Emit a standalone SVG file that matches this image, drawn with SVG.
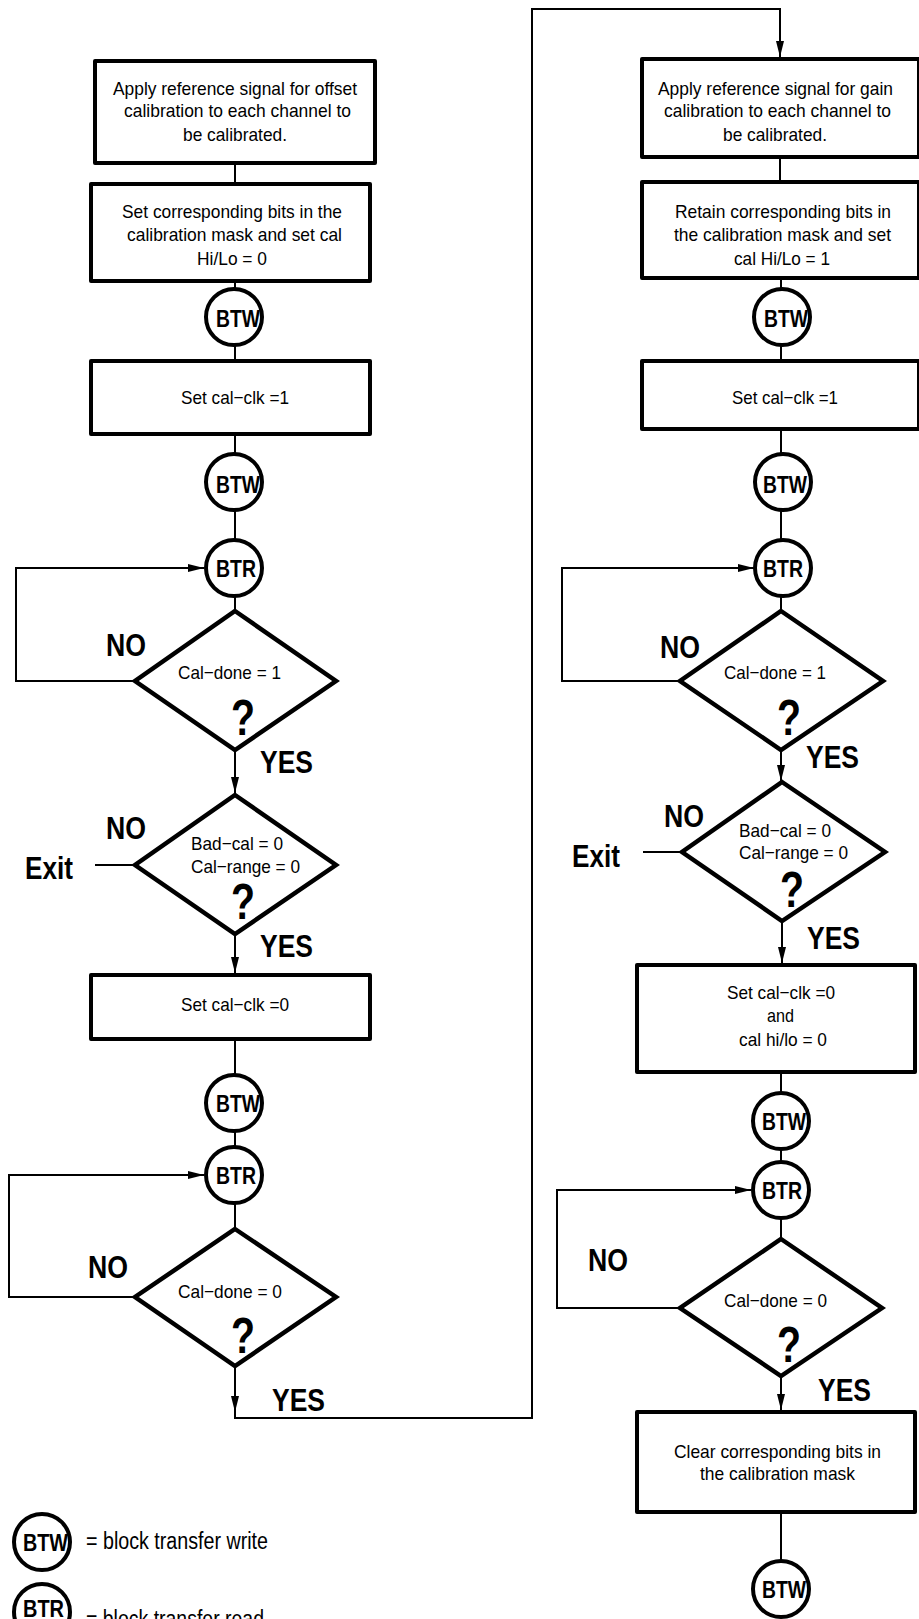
<svg xmlns="http://www.w3.org/2000/svg" width="919" height="1619" viewBox="0 0 919 1619">
<defs>
<style>
.box{fill:#fff;stroke:#000;stroke-width:4;stroke-linejoin:round}
.dia{fill:#fff;stroke:#000;stroke-width:4.5;stroke-linejoin:miter}
.circ{fill:#fff;stroke:#000;stroke-width:4}
.ln{fill:none;stroke:#000;stroke-width:2}
text{font-family:"Liberation Sans",Arial,Helvetica,sans-serif;fill:#000}
.t{font-size:19px}
.b{font-size:31px;font-weight:bold}
.q{font-size:50px;font-weight:bold}
.c{font-size:24px;font-weight:bold}
.lg{font-size:23px}
</style>
<marker id="ah" markerUnits="userSpaceOnUse" markerWidth="18" markerHeight="10" refX="16" refY="4" orient="auto">
<path d="M0,0 L16,4 L0,8 z" fill="#000"/>
</marker>
</defs>
<rect x="0" y="0" width="919" height="1619" fill="#fff"/>

<g id="connectors">
<path class="ln" d="M235,165 V182"/>
<path class="ln" d="M235,283 V289"/>
<path class="ln" d="M235,345 V361"/>
<path class="ln" d="M235,434 V454"/>
<path class="ln" d="M235,510 V540"/>
<path class="ln" d="M235,596 V611"/>
<path class="ln" d="M235,750 V793" marker-end="url(#ah)"/>
<path class="ln" d="M135,681 H16 V568 H204" marker-end="url(#ah)"/>
<path class="ln" d="M135,865 H95"/>
<path class="ln" d="M235,934 V973" marker-end="url(#ah)"/>
<path class="ln" d="M235,1039 V1075"/>
<path class="ln" d="M235,1131 V1147"/>
<path class="ln" d="M135,1297 H9 V1175 H204" marker-end="url(#ah)"/>
<path class="ln" d="M235,1203 V1229"/>
<path class="ln" d="M235,1366 V1412" marker-end="url(#ah)"/>
<path class="ln" d="M235,1410 V1418 H532 V9 H780 V57" marker-end="url(#ah)"/>

<path class="ln" d="M780,157 V182"/>
<path class="ln" d="M781,278 V289"/>
<path class="ln" d="M781,345 V361"/>
<path class="ln" d="M781,429 V454"/>
<path class="ln" d="M781,510 V540"/>
<path class="ln" d="M781,596 V611"/>
<path class="ln" d="M781,750 V781" marker-end="url(#ah)"/>
<path class="ln" d="M680,681 H562 V568 H754" marker-end="url(#ah)"/>
<path class="ln" d="M682,852 H643"/>
<path class="ln" d="M782,921 V963" marker-end="url(#ah)"/>
<path class="ln" d="M781,1072 V1093"/>
<path class="ln" d="M781,1149 V1162"/>
<path class="ln" d="M680,1308 H557 V1190 H751" marker-end="url(#ah)"/>
<path class="ln" d="M781,1218 V1239"/>
<path class="ln" d="M781,1376 V1410" marker-end="url(#ah)"/>
<path class="ln" d="M781,1512 V1561"/>
</g>

<!-- Left column -->
<g id="box-offset-apply">
<rect class="box" x="95" y="61" width="280" height="102"/>
<text class="t" x="113" y="95" textLength="244" lengthAdjust="spacingAndGlyphs">Apply reference signal for offset</text>
<text class="t" x="124" y="117" textLength="227" lengthAdjust="spacingAndGlyphs">calibration to each channel to</text>
<text class="t" x="183" y="141" textLength="104" lengthAdjust="spacingAndGlyphs">be calibrated.</text>
</g>
<g id="box-offset-setbits">
<rect class="box" x="91" y="184" width="279" height="97"/>
<text class="t" x="122" y="218" textLength="220" lengthAdjust="spacingAndGlyphs">Set corresponding bits in the</text>
<text class="t" x="127" y="241" textLength="215" lengthAdjust="spacingAndGlyphs">calibration mask and set cal</text>
<text class="t" x="197" y="265" textLength="70" lengthAdjust="spacingAndGlyphs">Hi/Lo = 0</text>
</g>
<g id="btw-l1">
<circle class="circ" cx="234" cy="317" r="28"/>
<text class="c" x="216" y="327" textLength="44" lengthAdjust="spacingAndGlyphs">BTW</text>
</g>
<g id="box-l-calclk1">
<rect class="box" x="91" y="361" width="279" height="73"/>
<text class="t" x="181" y="404" textLength="108" lengthAdjust="spacingAndGlyphs">Set cal−clk =1</text>
</g>
<g id="btw-l2">
<circle class="circ" cx="234" cy="482" r="28"/>
<text class="c" x="216" y="493" textLength="44" lengthAdjust="spacingAndGlyphs">BTW</text>
</g>
<g id="btr-l1">
<circle class="circ" cx="234" cy="568" r="28"/>
<text class="c" x="216" y="577" textLength="40" lengthAdjust="spacingAndGlyphs">BTR</text>
</g>
<g id="dec-l1">
<polygon class="dia" points="235,611 336,681 235,750 135,681"/>
<text class="t" x="178" y="679" textLength="103" lengthAdjust="spacingAndGlyphs">Cal−done = 1</text>
<text class="q" x="231" y="735" textLength="24" lengthAdjust="spacingAndGlyphs">?</text>
<text class="b" x="106" y="656" textLength="40" lengthAdjust="spacingAndGlyphs">NO</text>
<text class="b" x="260" y="773" textLength="53" lengthAdjust="spacingAndGlyphs">YES</text>
</g>
<g id="dec-l2">
<polygon class="dia" points="235,795 336,865 235,934 135,865"/>
<text class="t" x="191" y="850" textLength="92" lengthAdjust="spacingAndGlyphs">Bad−cal = 0</text>
<text class="t" x="191" y="873" textLength="109" lengthAdjust="spacingAndGlyphs">Cal−range = 0</text>
<text class="q" x="231" y="919" textLength="24" lengthAdjust="spacingAndGlyphs">?</text>
<text class="b" x="106" y="839" textLength="40" lengthAdjust="spacingAndGlyphs">NO</text>
<text class="b" x="25" y="879" textLength="48" lengthAdjust="spacingAndGlyphs">Exit</text>
<text class="b" x="260" y="957" textLength="53" lengthAdjust="spacingAndGlyphs">YES</text>
</g>
<g id="box-l-calclk0">
<rect class="box" x="91" y="975" width="279" height="64"/>
<text class="t" x="181" y="1011" textLength="108" lengthAdjust="spacingAndGlyphs">Set cal−clk =0</text>
</g>
<g id="btw-l3">
<circle class="circ" cx="234" cy="1103" r="28"/>
<text class="c" x="216" y="1112" textLength="44" lengthAdjust="spacingAndGlyphs">BTW</text>
</g>
<g id="btr-l2">
<circle class="circ" cx="234" cy="1175" r="28"/>
<text class="c" x="216" y="1184" textLength="40" lengthAdjust="spacingAndGlyphs">BTR</text>
</g>
<g id="dec-l3">
<polygon class="dia" points="235,1229 336,1297 235,1366 135,1297"/>
<text class="t" x="178" y="1298" textLength="104" lengthAdjust="spacingAndGlyphs">Cal−done = 0</text>
<text class="q" x="231" y="1353" textLength="24" lengthAdjust="spacingAndGlyphs">?</text>
<text class="b" x="88" y="1278" textLength="40" lengthAdjust="spacingAndGlyphs">NO</text>
<text class="b" x="272" y="1411" textLength="53" lengthAdjust="spacingAndGlyphs">YES</text>
</g>

<!-- Right column -->
<g id="box-gain-apply">
<rect class="box" x="642" y="59" width="277" height="98"/>
<text class="t" x="658" y="95" textLength="235" lengthAdjust="spacingAndGlyphs">Apply reference signal for gain</text>
<text class="t" x="664" y="117" textLength="227" lengthAdjust="spacingAndGlyphs">calibration to each channel to</text>
<text class="t" x="723" y="141" textLength="104" lengthAdjust="spacingAndGlyphs">be calibrated.</text>
</g>
<g id="box-gain-retain">
<rect class="box" x="642" y="182" width="277" height="96"/>
<text class="t" x="675" y="218" textLength="216" lengthAdjust="spacingAndGlyphs">Retain corresponding bits in</text>
<text class="t" x="674" y="241" textLength="217" lengthAdjust="spacingAndGlyphs">the calibration mask and set</text>
<text class="t" x="734" y="265" textLength="96" lengthAdjust="spacingAndGlyphs">cal Hi/Lo = 1</text>
</g>
<g id="btw-r1">
<circle class="circ" cx="782" cy="317" r="28"/>
<text class="c" x="764" y="327" textLength="44" lengthAdjust="spacingAndGlyphs">BTW</text>
</g>
<g id="box-r-calclk1">
<rect class="box" x="642" y="361" width="277" height="68"/>
<text class="t" x="732" y="404" textLength="106" lengthAdjust="spacingAndGlyphs">Set cal−clk =1</text>
</g>
<g id="btw-r2">
<circle class="circ" cx="783" cy="482" r="28"/>
<text class="c" x="763" y="493" textLength="44" lengthAdjust="spacingAndGlyphs">BTW</text>
</g>
<g id="btr-r1">
<circle class="circ" cx="783" cy="568" r="28"/>
<text class="c" x="763" y="577" textLength="40" lengthAdjust="spacingAndGlyphs">BTR</text>
</g>
<g id="dec-r1">
<polygon class="dia" points="781,611 883,681 781,750 680,681"/>
<text class="t" x="724" y="679" textLength="102" lengthAdjust="spacingAndGlyphs">Cal−done = 1</text>
<text class="q" x="777" y="735" textLength="24" lengthAdjust="spacingAndGlyphs">?</text>
<text class="b" x="660" y="658" textLength="40" lengthAdjust="spacingAndGlyphs">NO</text>
<text class="b" x="806" y="768" textLength="53" lengthAdjust="spacingAndGlyphs">YES</text>
</g>
<g id="dec-r2">
<polygon class="dia" points="782,782 885,852 782,921 682,852"/>
<text class="t" x="739" y="837" textLength="92" lengthAdjust="spacingAndGlyphs">Bad−cal = 0</text>
<text class="t" x="739" y="859" textLength="109" lengthAdjust="spacingAndGlyphs">Cal−range = 0</text>
<text class="q" x="780" y="907" textLength="24" lengthAdjust="spacingAndGlyphs">?</text>
<text class="b" x="664" y="827" textLength="40" lengthAdjust="spacingAndGlyphs">NO</text>
<text class="b" x="572" y="867" textLength="48" lengthAdjust="spacingAndGlyphs">Exit</text>
<text class="b" x="807" y="949" textLength="53" lengthAdjust="spacingAndGlyphs">YES</text>
</g>
<g id="box-r-calclk0">
<rect class="box" x="637" y="965" width="278" height="107"/>
<text class="t" x="727" y="999" textLength="108" lengthAdjust="spacingAndGlyphs">Set cal−clk =0</text>
<text class="t" x="767" y="1022" textLength="27" lengthAdjust="spacingAndGlyphs">and</text>
<text class="t" x="739" y="1046" textLength="88" lengthAdjust="spacingAndGlyphs">cal hi/lo = 0</text>
</g>
<g id="btw-r3">
<circle class="circ" cx="781" cy="1121" r="28"/>
<text class="c" x="762" y="1130" textLength="44" lengthAdjust="spacingAndGlyphs">BTW</text>
</g>
<g id="btr-r2">
<circle class="circ" cx="781" cy="1190" r="28"/>
<text class="c" x="762" y="1199" textLength="40" lengthAdjust="spacingAndGlyphs">BTR</text>
</g>
<g id="dec-r3">
<polygon class="dia" points="781,1239 882,1308 781,1376 680,1308"/>
<text class="t" x="724" y="1307" textLength="103" lengthAdjust="spacingAndGlyphs">Cal−done = 0</text>
<text class="q" x="777" y="1362" textLength="24" lengthAdjust="spacingAndGlyphs">?</text>
<text class="b" x="588" y="1271" textLength="40" lengthAdjust="spacingAndGlyphs">NO</text>
<text class="b" x="818" y="1401" textLength="53" lengthAdjust="spacingAndGlyphs">YES</text>
</g>
<g id="box-r-clear">
<rect class="box" x="637" y="1412" width="278" height="100"/>
<text class="t" x="674" y="1458" textLength="207" lengthAdjust="spacingAndGlyphs">Clear corresponding bits in</text>
<text class="t" x="700" y="1480" textLength="155" lengthAdjust="spacingAndGlyphs">the calibration mask</text>
</g>
<g id="btw-r4">
<circle class="circ" cx="781" cy="1589" r="28"/>
<text class="c" x="762" y="1598" textLength="44" lengthAdjust="spacingAndGlyphs">BTW</text>
</g>

<!-- Legend -->
<g id="legend-btw">
<circle class="circ" cx="42" cy="1542" r="28"/>
<text class="c" x="23" y="1551" textLength="45" lengthAdjust="spacingAndGlyphs">BTW</text>
<text class="lg" x="86" y="1549" textLength="182" lengthAdjust="spacingAndGlyphs">= block transfer write</text>
</g>
<g id="legend-btr">
<circle class="circ" cx="42" cy="1612" r="28"/>
<text class="c" x="23" y="1617" textLength="41" lengthAdjust="spacingAndGlyphs">BTR</text>
<text class="lg" x="86" y="1627" textLength="178" lengthAdjust="spacingAndGlyphs">= block transfer read</text>
</g>
</svg>
